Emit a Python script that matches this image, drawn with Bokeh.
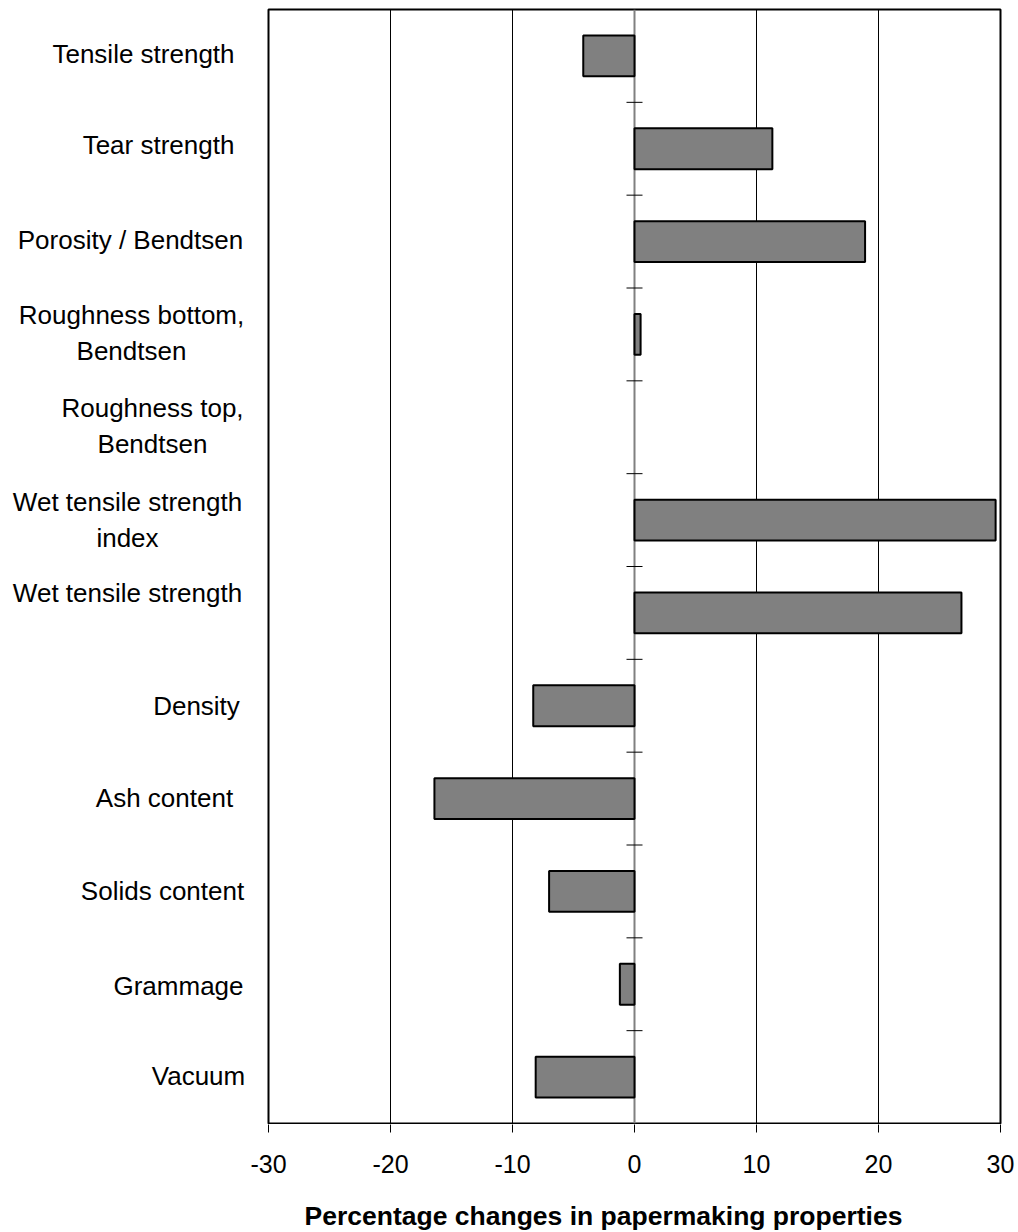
from bokeh.plotting import figure
from bokeh.layouts import row, column
from bokeh.models import Range1d, FixedTicker, Span, ColumnDataSource
from bokeh.core.properties import value
from bokeh.embed import file_html
from bokeh.resources import INLINE

# ---- data (top to bottom) ----
categories = [
    "Tensile strength", "Tear strength", "Porosity / Bendtsen",
    "Roughness bottom,\nBendtsen", "Roughness top,\nBendtsen",
    "Wet tensile strength\nindex", "Wet tensile strength", "Density",
    "Ash content", "Solids content", "Grammage", "Vacuum",
]
changes = [-4.2, 11.3, 18.9, 0.5, 0.0, 29.6, 26.8, -8.3, -16.4, -7.0, -1.2, -8.1]
x_ticks = [-30, -20, -10, 0, 10, 20, 30]
x_title = "Percentage changes in papermaking properties"

# ---- layout / style ----
FONT = "Liberation Sans"
n = len(categories)
ypos = [n - 1 - i for i in range(n)]
TOTAL_W, TOTAL_H = 1018, 1232
LEFT_W = 266
FRAME_L, FRAME_R = 268, 1000          # frame edges (px)
TOP = 9
FRAME_B = 1123
MAIN_H = FRAME_B + 1
BOT_H = TOTAL_H - MAIN_H
TICK_LEN = 8
label_cx = [143, 158, 130, 131, 152, 127, 127, 196, 164, 162, 178, 198]
line_dy = [-2, -4, -2, -19, -19, -18, -20, 0, -1, 0, 2, -1]
LINE_GAP = 36

common = dict(height=MAIN_H, output_backend="svg", toolbar_location=None,
              y_range=Range1d(-0.5, n - 0.5), min_border_top=TOP,
              min_border_bottom=1, x_axis_location=None, y_axis_location=None)

# ---- left panel: category labels ----
lab = figure(width=LEFT_W, x_range=Range1d(0, LEFT_W),
             min_border_left=0, min_border_right=0, **common)
lab.outline_line_color = None
lab.grid.visible = False

lx, ly, lt, loff = [], [], [], []
for i, cat in enumerate(categories):
    for j, line in enumerate(cat.split("\n")):
        lx.append(label_cx[i])
        ly.append(ypos[i])
        lt.append(line)
        loff.append(line_dy[i] + j * LINE_GAP)
lab.text(x=lx, y=ly, text=lt, y_offset=loff, text_align="center", text_baseline="middle",
         text_font=value(FONT), text_font_size="26px", text_color="black")

# ---- main chart ----
p = figure(width=TOTAL_W - LEFT_W, x_range=Range1d(x_ticks[0], x_ticks[-1]),
           min_border_left=FRAME_L - LEFT_W, min_border_right=TOTAL_W - FRAME_R, **common)
p.outline_line_color = "black"
p.outline_line_width = 2
p.ygrid.visible = False
p.xgrid.ticker = FixedTicker(ticks=[t for t in x_ticks if t not in (0, x_ticks[0], x_ticks[-1])])
p.xgrid.grid_line_color = "black"
p.xgrid.grid_line_width = 1

zero = Span(location=0, dimension="height", line_color="#808080", line_width=2, level="underlay")
p.add_layout(zero)

nz = [k for k, v in enumerate(changes) if v != 0]
src = ColumnDataSource(dict(
    y=[ypos[k] for k in nz],
    left=[min(0, changes[k]) for k in nz],
    right=[max(0, changes[k]) for k in nz],
))
p.hbar(y="y", left="left", right="right", height=0.44, source=src,
       fill_color="#808080", line_color="black", line_width=2)

bounds = [k + 0.5 for k in range(n - 1)]
p.scatter(x=[0] * len(bounds), y=bounds, marker="dash", size=16,
          line_color="black", line_width=1)

# ---- bottom strip: x ticks, tick labels and axis title, on the same x scale ----
ppu = (FRAME_R - FRAME_L) / (x_ticks[-1] - x_ticks[0])
bot = figure(width=TOTAL_W, height=BOT_H, output_backend="svg", toolbar_location=None,
             x_range=Range1d(x_ticks[0] - FRAME_L / ppu, x_ticks[-1] + (TOTAL_W - FRAME_R) / ppu),
             y_range=Range1d(0, BOT_H), x_axis_location=None, y_axis_location=None,
             min_border=0, min_border_left=0, min_border_right=0,
             min_border_top=0, min_border_bottom=0)
bot.outline_line_color = None
bot.grid.visible = False
bot.segment(x0=x_ticks, x1=x_ticks, y0=[BOT_H + 1] * len(x_ticks),
            y1=[BOT_H - TICK_LEN] * len(x_ticks), line_color="black", line_width=1)
bot.text(x=x_ticks, y=[BOT_H - 39] * len(x_ticks), text=[str(t) for t in x_ticks],
         text_align="center", text_baseline="middle",
         text_font=value(FONT), text_font_size="25px", text_color="black")
bot.text(x=[0], y=[BOT_H - 91], text=[x_title], x_offset=-31,
         text_align="center", text_baseline="middle",
         text_font=value(FONT), text_font_size="26.5px", text_font_style="bold",
         text_color="black")

layout = column(row(lab, p), bot)
open("out.html", "w").write(file_html(layout, INLINE))
